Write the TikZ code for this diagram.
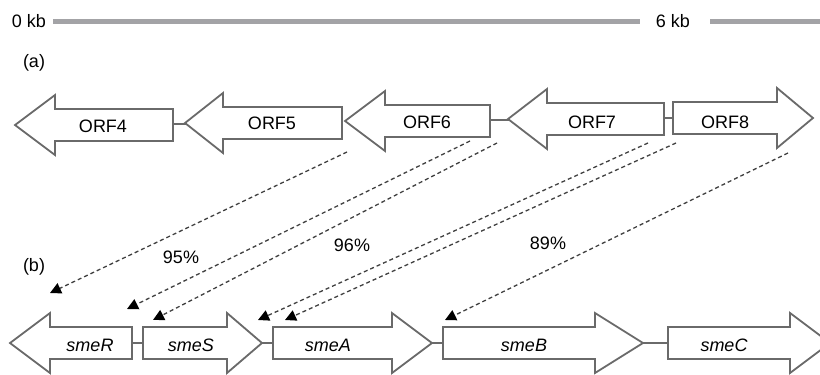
\documentclass[tikz,border=0pt]{standalone}
\usepackage{fontspec}
\setmainfont{Liberation Sans}
\usetikzlibrary{arrows.meta}
\definecolor{outl}{HTML}{6A6A6A}
\definecolor{barc}{HTML}{A3A3A6}
\definecolor{dash}{HTML}{404040}
\tikzset{
  gene/.style={draw=outl, line width=1.8pt, fill=white, line join=miter},
  link/.style={draw=outl, line width=1.8pt},
  lbl/.style={inner sep=0pt, font=\fontsize{18}{21}\selectfont},
  glbl/.style={inner sep=0pt, font=\fontsize{18}{21}\selectfont\itshape},
  hom/.style={draw=dash, line width=1.3pt, dash pattern=on 4pt off 3pt,
    -{Triangle[length=11pt,width=11pt,fill=black,color=black]}},
  scalebar/.style={draw=barc, line width=5pt}
}
% left-pointing gene: tip x, head back x, body right x, centre y
\newcommand\geneleft[4]{%
  \draw[gene] (#1,#4) -- (#2,#4-30) -- (#2,#4-16) -- (#3,#4-16) -- (#3,#4+16)
    -- (#2,#4+16) -- (#2,#4+30) -- cycle;}
% right-pointing gene: body left x, head back x, tip x, centre y
\newcommand\generight[4]{%
  \draw[gene] (#3,#4) -- (#2,#4-30) -- (#2,#4-16) -- (#1,#4-16) -- (#1,#4+16)
    -- (#2,#4+16) -- (#2,#4+30) -- cycle;}
\begin{document}
\begin{tikzpicture}[x=1pt,y=-1pt]
\useasboundingbox (0,0) rectangle (820,375);
\clip (0,0) rectangle (820,375);
% scale bar
\node[lbl] (kb0) at (29,21) {0 kb};
\node[lbl] (kb6) at (673,21) {6 kb};
\coordinate (bar1a) at (53,21.5);
\coordinate (bar1b) at (640,21.5);
\coordinate (bar2a) at (710,21.5);
\coordinate (bar2b) at (822,21.5);
\draw[scalebar] (bar1a) -- (bar1b);
\draw[scalebar] (bar2a) -- (bar2b);
\node[lbl] (pa) at (34,63) {(a)};
\node[lbl] (pb) at (34,267) {(b)};
% top row connectors
\coordinate (c45a) at (173,124); \coordinate (c45b) at (187,124);
\coordinate (c67a) at (490,120); \coordinate (c67b) at (510,120);
\coordinate (c78a) at (664,118); \coordinate (c78b) at (673,118);
\draw[link] (c45a) -- (c45b);
\draw[link] (c67a) -- (c67b);
\draw[link] (c78a) -- (c78b);
% top row genes
\geneleft{15}{55}{173}{125}
\geneleft{185}{223}{342}{123}
\geneleft{345}{385}{490}{121}
\geneleft{508}{547}{664}{119}
\generight{673}{777}{813}{118}
\node[lbl] (orf4) at (103,126) {ORF4};
\node[lbl] (orf5) at (272,123) {ORF5};
\node[lbl] (orf6) at (427,122) {ORF6};
\node[lbl] (orf7) at (592,122) {ORF7};
\node[lbl] (orf8) at (725,122) {ORF8};
% bottom row connectors
\coordinate (cRSa) at (132,343); \coordinate (cRSb) at (143,343);
\coordinate (cSAa) at (262,343); \coordinate (cSAb) at (273,343);
\coordinate (cABa) at (432,343); \coordinate (cABb) at (443,343);
\coordinate (cBCa) at (643,343); \coordinate (cBCb) at (668,343);
\draw[link] (cRSa) -- (cRSb);
\draw[link] (cSAa) -- (cSAb);
\draw[link] (cABa) -- (cABb);
\draw[link] (cBCa) -- (cBCb);
% bottom row genes
\geneleft{10}{50}{132}{343}
\generight{143}{227}{262}{343}
\generight{273}{392}{432}{343}
\generight{443}{595}{643}{343}
\generight{668}{790}{830}{343}
\node[glbl] (smeR) at (90,345) {smeR};
\node[glbl] (smeS) at (191,345) {smeS};
\node[glbl] (smeA) at (328,345) {smeA};
\node[glbl] (smeB) at (524,345) {smeB};
\node[glbl] (smeC) at (724,345) {smeC};
% homology connectors
\coordinate (s1) at (347,152); \coordinate (e1) at (50,293);
\coordinate (s2) at (470,141); \coordinate (e2) at (127,309);
\coordinate (s3) at (497,143); \coordinate (e3) at (153,320);
\coordinate (s4) at (648,143); \coordinate (e4) at (258,320);
\coordinate (s5) at (676,143); \coordinate (e5) at (285,320);
\coordinate (s6) at (788,153); \coordinate (e6) at (445,320);
\draw[hom] (s1) -- (e1);
\draw[hom] (s2) -- (e2);
\draw[hom] (s3) -- (e3);
\draw[hom] (s4) -- (e4);
\draw[hom] (s5) -- (e5);
\draw[hom] (s6) -- (e6);
\node[lbl] (p95) at (181,257) {95\%};
\node[lbl] (p96) at (352,245) {96\%};
\node[lbl] (p89) at (548,243) {89\%};
\end{tikzpicture}
\end{document}
